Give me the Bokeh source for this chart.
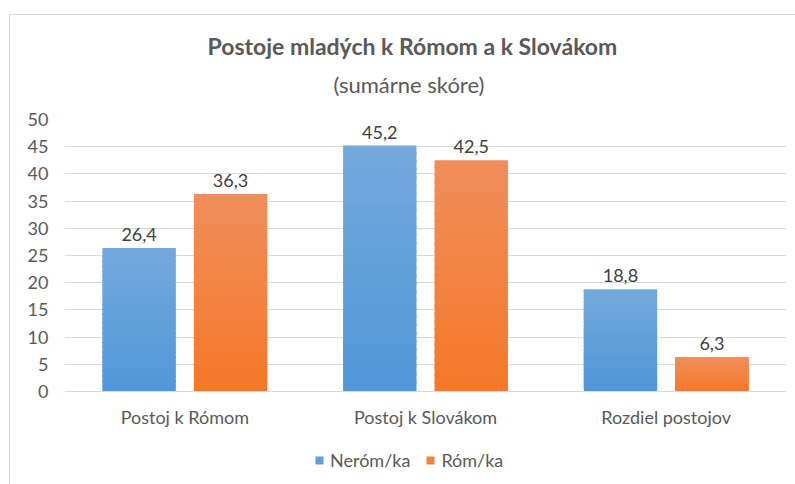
from bokeh.plotting import figure
from bokeh.models import (ColumnDataSource, FactorRange, Range1d, Legend, LegendItem,
                          LabelSet, Title, FixedTicker, Span)
from bokeh.core.properties import value
from bokeh.transform import dodge
from bokeh.embed import file_html
from bokeh.resources import INLINE

# ---- data ----
categories = ["Postoj k Rómom", "Postoj k Slovákom", "Rozdiel postojov"]
nerom = [26.4, 45.2, 18.8]
rom = [36.3, 42.5, 6.3]
series_names = ["Neróm/ka", "Róm/ka"]
y_ticks = [0, 5, 10, 15, 20, 25, 30, 35, 40, 45, 50]
title_text = "Postoje mladých k Rómom a k Slovákom"
subtitle_text = "(sumárne skóre)"

FONT = "Lato"
TXT = "#595959"
GRID = "#D9D9D9"

# gradient colours (bottom, top)
grad = {
    "Neróm/ka": ((0x50, 0x98, 0xDA), (0x74, 0xA8, 0xDC)),
    "Róm/ka": ((0xF5, 0x78, 0x28), (0xF0, 0x8E, 0x5B)),
}
offsets = {"Neróm/ka": -0.19, "Róm/ka": 0.19}
BAR_W = 0.305

# layout: frame top (value 50) 104px below figure top, value 0 at 376px,
# frame extends to the figure bottom to hold category labels and legend
FIG_H = 470
TOP = 104
ZERO = 376
y_lo = -(FIG_H - ZERO) * 50.0 / (ZERO - TOP)

p = figure(width=786, height=FIG_H, x_range=FactorRange(*categories, range_padding=0),
           y_range=Range1d(y_lo, 50), output_backend="svg", toolbar_location=None,
           x_axis_location=None,
           min_border_left=54, min_border_right=10, min_border_top=TOP, min_border_bottom=0)
p.styles = {"border-top": "1px solid #D9D9D9", "border-left": "1px solid #D9D9D9"}
p.margin = (14, 0, 0, 9)
p.outline_line_color = None
p.background_fill_color = "white"
p.border_fill_color = "white"

p.xgrid.visible = False
p.ygrid.grid_line_color = GRID
p.ygrid.grid_line_width = 1
p.ygrid.ticker = FixedTicker(ticks=y_ticks[1:])
p.yaxis.ticker = FixedTicker(ticks=y_ticks)
p.yaxis.axis_line_color = None
p.yaxis.major_tick_line_color = None
p.yaxis.minor_tick_line_color = None
p.yaxis.major_tick_out = 0
p.yaxis.major_label_text_font = FONT
p.yaxis.major_label_text_font_size = "18px"
p.yaxis.major_label_text_color = TXT
p.yaxis.major_label_standoff = 16

# category axis baseline and labels
p.add_layout(Span(location=0, dimension="width", line_color=GRID, line_width=1))
p.text(x=categories, y=[0] * len(categories), text=categories, y_offset=14,
       text_align="center", text_baseline="top", text_font=value(FONT),
       text_font_size="18px", text_color=TXT)

N = 30
items = []
for name, vals in zip(series_names, [nerom, rom]):
    c0, c1 = grad[name]
    xs, bots, tops, cols = [], [], [], []
    for cat, v in zip(categories, vals):
        for i in range(N):
            t = i / (N - 1)
            col = "#%02x%02x%02x" % tuple(int(round(a + (b - a) * t)) for a, b in zip(c0, c1))
            xs.append(cat)
            bots.append(v * i / N)
            tops.append(min(v, v * (i + 1) / N + 0.35))
            cols.append(col)
    src = ColumnDataSource(dict(cat=xs, bottom=bots, top=tops, color=cols))
    r = p.vbar(x=dodge("cat", offsets[name], range=p.x_range), bottom="bottom", top="top",
               width=BAR_W, source=src, fill_color="color", line_color=None)
    items.append(LegendItem(label=name, renderers=[r], index=N // 2))

    lsrc = ColumnDataSource(dict(cat=categories, v=vals,
                                 txt=[f"{v:.1f}".replace(".", ",") for v in vals]))
    p.add_layout(LabelSet(x=dodge("cat", offsets[name], range=p.x_range), y="v", text="txt",
                          source=lsrc, text_align="center", text_baseline="bottom", y_offset=7,
                          text_font=value(FONT), text_font_size="18px", text_color="#404040"))

legend = Legend(items=items, orientation="horizontal", location=(250, 14),
                glyph_width=10, glyph_height=10, label_text_font=FONT,
                label_text_font_size="18px", label_text_color=TXT, spacing=15,
                padding=0, margin=0, border_line_color=None, background_fill_alpha=0,
                label_standoff=6)
p.add_layout(legend, "center")

sub = Title(text=subtitle_text, align="left", offset=269, text_font=FONT,
            text_font_size="22px", text_font_style="normal", text_color=TXT, standoff=44)
ttl = Title(text=title_text, align="left", offset=143, text_font=FONT,
            text_font_size="23px", text_font_style="bold", text_color=TXT, standoff=-26)
p.add_layout(sub, "above")
p.add_layout(ttl, "above")

open("out.html", "w").write(file_html(p, INLINE))
